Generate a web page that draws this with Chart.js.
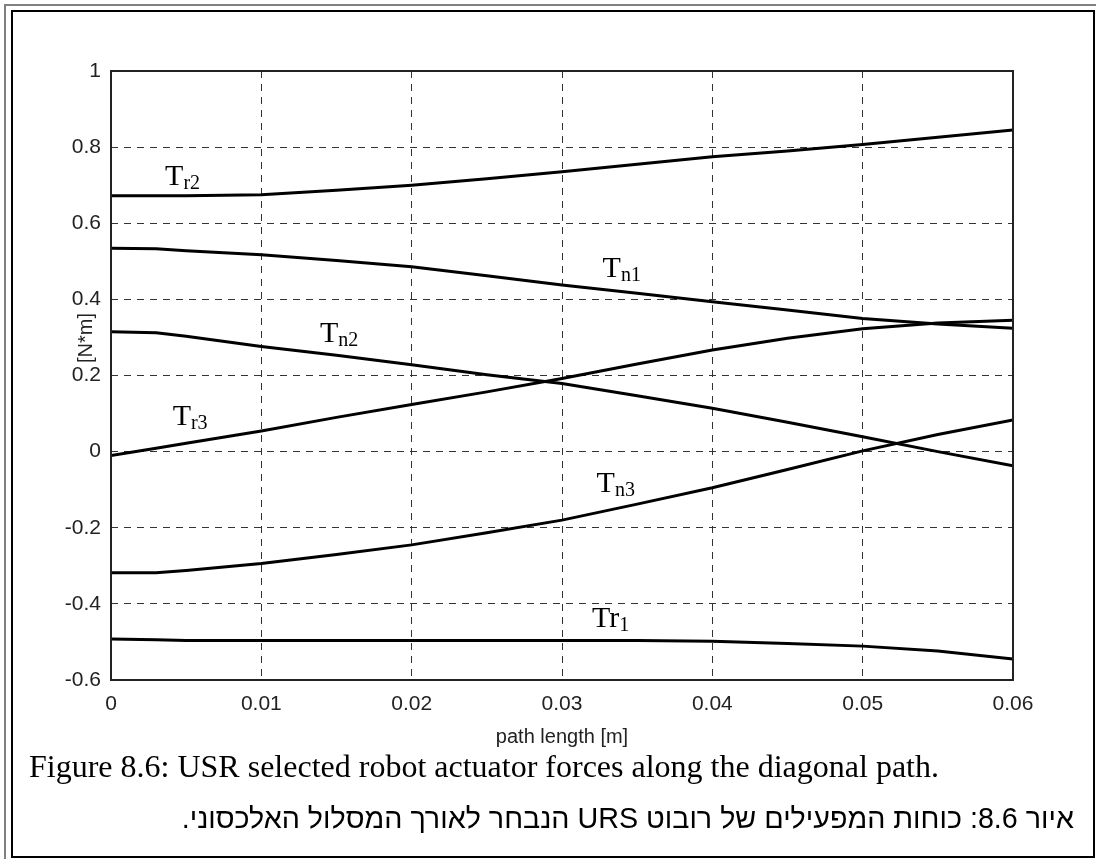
<!DOCTYPE html>
<html>
<head>
<meta charset="utf-8">
<script src="https://cdn.jsdelivr.net/npm/chart.js@4.4.0/dist/chart.umd.min.js"></script>
<style>
  html, body { margin: 0; padding: 0; background: #fff; }
  body { width: 1096px; height: 859px; position: relative; overflow: hidden; }
  #outer { position: absolute; left: 4px; top: 4px; width: 1100px; height: 860px;
           border-top: 2px solid #808080; border-left: 2px solid #808080; }
  #inner { position: absolute; left: 11px; top: 10px; width: 1080px; height: 844px;
           border: 2px solid #000; }
  #chart { position: absolute; left: 0; top: 0; }
  .caption-en { position: absolute; left: 29px; top: 750px; font: 32px/32px "Liberation Serif", "Times New Roman", serif;
                color: #000; white-space: nowrap; }
  .caption-he { position: absolute; right: 22px; top: 804px; font: 28.7px/28px "Liberation Sans", Arial, "DejaVu Sans", sans-serif;
                color: #000; white-space: nowrap; direction: rtl; }
</style>
</head>
<body>
<div id="outer"></div>
<div id="inner"></div>
<canvas id="chart" width="1096" height="859"></canvas>
<div class="caption-en">Figure 8.6: USR selected robot actuator forces along the diagonal path.</div>
<div class="caption-he" dir="rtl">איור 8.6: כוחות המפעילים של רובוט URS הנבחר לאורך המסלול האלכסוני.</div>
<script>
// path length [m]
const pathLength = [0, 0.003, 0.005, 0.01, 0.015, 0.02, 0.025, 0.03, 0.035, 0.04, 0.045, 0.05, 0.055, 0.06];

// actuator torques [N*m]
const tr2 = [0.672, 0.672, 0.672, 0.675, 0.687, 0.700, 0.717, 0.735, 0.755, 0.775, 0.790, 0.807, 0.826, 0.845];
const tn1 = [0.534, 0.533, 0.528, 0.517, 0.502, 0.486, 0.462, 0.438, 0.416, 0.394, 0.372, 0.350, 0.335, 0.324];
const tn2 = [0.315, 0.312, 0.303, 0.276, 0.253, 0.228, 0.202, 0.179, 0.147, 0.114, 0.077, 0.039, 0.000, -0.037];
const tr3 = [-0.010, 0.009, 0.022, 0.054, 0.090, 0.124, 0.157, 0.192, 0.230, 0.267, 0.298, 0.323, 0.338, 0.345];
const tn3 = [-0.318, -0.318, -0.312, -0.294, -0.270, -0.245, -0.213, -0.180, -0.138, -0.095, -0.047, 0.002, 0.045, 0.083];
const tr1 = [-0.492, -0.494, -0.496, -0.496, -0.496, -0.496, -0.496, -0.496, -0.496, -0.498, -0.504, -0.511, -0.524, -0.545];

const xTicks = [0, 0.01, 0.02, 0.03, 0.04, 0.05, 0.06];
const xTickLabels = ["0", "0.01", "0.02", "0.03", "0.04", "0.05", "0.06"];
const yTicks = [-0.6, -0.4, -0.2, 0, 0.2, 0.4, 0.6, 0.8, 1];
const yTickLabels = ["-0.6", "-0.4", "-0.2", "0", "0.2", "0.4", "0.6", "0.8", "1"];

// curve names, anchored in data units (left of "T", baseline)
const curveLabels = [
  { main: "T", sub: "r2", x: 0.0036, y: 0.700 },
  { main: "T", sub: "n1", x: 0.0327, y: 0.459 },
  { main: "T", sub: "n2", x: 0.0139, y: 0.289 },
  { main: "T", sub: "r3", x: 0.0041, y: 0.070 },
  { main: "T", sub: "n3", x: 0.0323, y: -0.105 },
  { main: "Tr", sub: "1", x: 0.0320, y: -0.461 },
];

const series = [tr2, tn1, tn2, tr3, tn3, tr1];

function toPoints(values) {
  return values.map((v, i) => ({ x: pathLength[i], y: v }));
}

const tickFont = { family: '"Liberation Sans", Arial, sans-serif', size: 21 };

const framePlugin = {
  id: "frame",
  afterDraw(chart) {
    const { ctx, chartArea: a, scales } = chart;
    ctx.save();
    ctx.strokeStyle = "#222";
    ctx.lineWidth = 2;
    ctx.strokeRect(a.left, a.top, a.right - a.left, a.bottom - a.top);

    // axis titles
    ctx.fillStyle = "#222";
    ctx.font = '20px "Liberation Sans", Arial, sans-serif';
    ctx.textAlign = "center";
    ctx.textBaseline = "middle";
    ctx.fillText("path length [m]", (a.left + a.right) / 2, 737);
    ctx.save();
    ctx.translate(86, 338);
    ctx.rotate(-Math.PI / 2);
    ctx.fillText("[N*m]", 0, 0);
    ctx.restore();

    // curve labels
    ctx.fillStyle = "#000";
    ctx.textAlign = "left";
    ctx.textBaseline = "alphabetic";
    curveLabels.forEach((l) => {
      const px = scales.x.getPixelForValue(l.x);
      const py = scales.y.getPixelForValue(l.y);
      ctx.font = '30px "Liberation Serif", "Times New Roman", serif';
      ctx.fillText(l.main, px, py);
      const w = ctx.measureText(l.main).width;
      ctx.font = '20px "Liberation Serif", "Times New Roman", serif';
      ctx.fillText(l.sub, px + w, py + 4);
    });
    ctx.restore();
  },
};

new Chart(document.getElementById("chart"), {
  type: "line",
  data: {
    datasets: series.map((s) => ({
      data: toPoints(s),
      borderColor: "#000",
      borderWidth: 3,
      pointRadius: 0,
      tension: 0,
      fill: false,
    })),
  },
  options: {
    responsive: false,
    animation: false,
    devicePixelRatio: 1,
    layout: { padding: { left: 0, top: 71, right: 83, bottom: 0 } },
    plugins: { legend: { display: false }, tooltip: { enabled: false } },
    scales: {
      x: {
        type: "linear",
        min: 0,
        max: 0.06,
        afterFit(scale) { scale.height = 179; },
        afterBuildTicks(scale) { scale.ticks = xTicks.map((v) => ({ value: v })); },
        ticks: {
          font: tickFont,
          color: "#222",
          padding: 12,
          maxRotation: 0,
          callback: (v) => xTickLabels[xTicks.indexOf(v)] ?? "",
        },
        grid: { color: "#333", lineWidth: 1, drawTicks: false },
        border: { display: false, dash: [7, 6] },
      },
      y: {
        min: -0.6,
        max: 1,
        afterFit(scale) { scale.width = 111; },
        afterBuildTicks(scale) { scale.ticks = yTicks.map((v) => ({ value: v })); },
        ticks: {
          font: tickFont,
          color: "#222",
          padding: 10,
          callback: (v) => yTickLabels[yTicks.indexOf(v)] ?? "",
        },
        grid: { color: "#333", lineWidth: 1, drawTicks: false },
        border: { display: false, dash: [7, 6] },
      },
    },
  },
  plugins: [framePlugin],
});
</script>
</body>
</html>
